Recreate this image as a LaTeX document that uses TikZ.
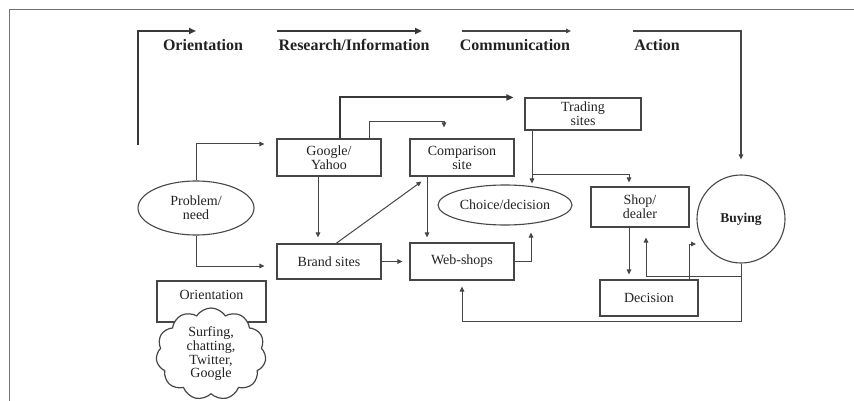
\documentclass[tikz,border=0pt]{standalone}
\usepackage{fontspec}
\setmainfont{Liberation Serif}
\usetikzlibrary{arrows.meta,shapes.geometric,shapes.symbols}
\definecolor{ink}{HTML}{464646}
\definecolor{txt}{HTML}{222222}
\definecolor{framegrey}{HTML}{707070}
\tikzset{
  box/.style={draw=ink, line width=1.1pt, rectangle, align=center, text=txt,
    inner sep=0pt, font=\fontsize{14}{14}\selectfont},
  oval/.style={draw=ink, line width=1.1pt, ellipse, align=center, text=txt,
    inner sep=0pt, font=\fontsize{14}{14}\selectfont},
  head/.style={text=txt, font=\bfseries\fontsize{16}{16}\selectfont},
  arr/.style={draw=ink, line width=1pt, -{Triangle[length=5pt,width=4.5pt]}},
  heavyarr/.style={draw=ink!80!black, line width=2pt, -{Triangle[length=7pt,width=6pt]}},
}
\begin{document}
\begin{tikzpicture}[x=1pt,y=-1pt]
\useasboundingbox (0,0) rectangle (854,401);

% page frame (top and left rules)
\draw[framegrey, line width=1pt] (9,401) -- (9,10) -- (854,10);

% stage headings
\node[head] (hOri) at (203,45) {Orientation};
\node[head] (hRes) at (354,45) {Research/Information};
\node[head] (hCom) at (515,45) {Communication};
\node[head] (hAct) at (657,45) {Action};

% boxes
\node[box, minimum width=104pt, minimum height=37pt] (google) at (329,157.5) {Google/\\Yahoo};
\node[box, minimum width=104pt, minimum height=37pt] (comp) at (462,157.5) {Comparison\\site};
\node[box, minimum width=116pt, minimum height=32pt] (trade) at (583,114) {Trading\\sites};
\node[box, minimum width=104pt, minimum height=35pt] (brand) at (329,261.5) {Brand sites};
\node[box, minimum width=104pt, minimum height=37pt] (web) at (462,261.5) {Web-shops};
\node[box, minimum width=98pt, minimum height=40pt] (shop) at (640,207) {Shop/\\dealer};
\node[box, minimum width=98pt, minimum height=36pt] (decision) at (649,298) {Decision};

% ellipses and circle
\node[oval, minimum width=116pt, minimum height=54pt] (problem) at (196,208) {Problem/\\need};
\node[oval, minimum width=134pt, minimum height=40pt] (choice) at (505,205) {Choice/decision};
\node[oval, circle, minimum size=88pt, font=\bfseries\fontsize{13.5}{14}\selectfont] (buying) at (741,219) {Buying};

% orientation box with the cloud in front of it
\node[box, minimum width=109pt, minimum height=41pt, text height=10pt, text depth=15pt] (oribox) at (211.5,301.5) {Orientation};
\node[draw=ink, line width=1.2pt, fill=white, cloud, cloud puffs=11, cloud puff arc=115,
  cloud ignores aspect, minimum width=110pt, minimum height=92pt, inner sep=0pt,
  align=center, text=txt, font=\fontsize{14}{13.7}\selectfont] (cloud) at (211,354)
  {Surfing,\\chatting,\\Twitter,\\Google};

% top stage arrows
\coordinate (o1) at (138,145);
\coordinate (o2) at (196,31);
\coordinate (r1) at (277,31);
\coordinate (r2) at (422,31);
\coordinate (c1) at (462,31);
\coordinate (c2) at (571,31);
\coordinate (a1) at (633,31);
\draw[heavyarr] (o1) |- (o2);
\draw[heavyarr] (r1) -- (r2);
\draw[arr, line width=1.3pt] (c1) -- (c2);
\draw[arr, line width=1.3pt, shorten >=15pt] (a1) -| (buying.north);

% connectors
\draw[heavyarr] ([xshift=11pt]google.north) |- ([xshift=-11pt]trade.north west);
\draw[arr] ([xshift=40pt]google.north) -- ++(0,-17) -| ([xshift=-18pt,yshift=11pt]comp.north);
\draw[arr] (problem.north) |- ([xshift=-12pt,yshift=13.5pt]google.west);
\draw[arr] (problem.south) |- ([xshift=-12pt,yshift=-4.5pt]brand.west);
\draw[arr] ([xshift=-11pt]google.south) -- ([xshift=-11pt,yshift=6pt]brand.north);
\draw[arr] ([xshift=7pt]brand.north) -- ([xshift=12pt,yshift=-5pt]comp.south west);
\draw[arr] (brand.east) -- ([xshift=-7pt]web.west);
\draw[arr] ([xshift=-35pt]comp.south) -- ([xshift=-35pt,yshift=5pt]web.north);
\draw[arr] (web.east) -| ([xshift=26pt,yshift=-7pt]choice.south);
\draw[arr] ([xshift=-51pt]trade.south) -- ([xshift=27pt,yshift=1pt]choice.north);
\draw[arr] ([xshift=-51pt,yshift=-44pt]trade.south) -| ([xshift=-11pt,yshift=4pt]shop.north);
\draw[arr] ([xshift=-11pt]shop.south) -- ([xshift=-20pt,yshift=5pt]decision.north);
\draw[arr] ([xshift=40pt]decision.north) |- ([xshift=-45pt,yshift=-25pt]buying.center);
\draw[arr] (buying.south) -- ([yshift=-13pt]buying.south) -| ([xshift=6pt,yshift=-10pt]shop.south);
\draw[arr] (buying.south) -- ([yshift=-58pt]buying.south) -| ([yshift=-6pt]web.south);
\end{tikzpicture}
\end{document}
